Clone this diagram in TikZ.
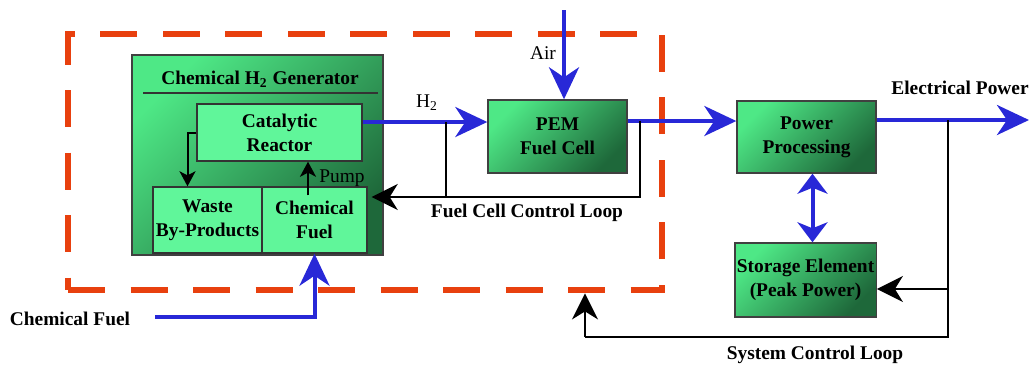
\documentclass[tikz,border=0pt]{standalone}
\usepackage{fontspec}
\setmainfont{Liberation Serif}
\usetikzlibrary{arrows.meta, positioning, calc}
\definecolor{gLight}{RGB}{78,232,134}
\definecolor{gDark}{RGB}{30,104,58}
\definecolor{gFlat}{RGB}{96,246,154}
\definecolor{fcBlue}{RGB}{40,40,215}
\definecolor{fcRed}{RGB}{232,64,14}

\begin{document}
\begin{tikzpicture}[
  x=0.5pt, y=-0.5pt,
  font=\fontsize{9.7}{12}\selectfont\bfseries,
  gbox/.style={draw=black!75, line width=0.7pt, align=center, inner sep=1pt,
               top color=gLight, middle color=gLight!80!gDark, bottom color=gDark,
               shading angle=45},
  ibox/.style={draw=black!80, fill=gFlat, line width=0.7pt, align=center, inner sep=1pt},
  sysbox/.style={draw=fcRed, line width=3.4pt, dash pattern=on 18.5pt off 12.75pt},
  bline/.style={draw=fcBlue, line width=2pt},
  bar/.style={bline, -{Stealth[length=16pt,width=15pt,inset=5pt]}},
  bboth/.style={bline, {Stealth[length=10pt,width=15pt,inset=3pt]}-{Stealth[length=10pt,width=15pt,inset=3pt]}},
  kline/.style={draw=black, line width=1.2pt},
  kar/.style={kline, -{Stealth[length=13pt,width=13pt,inset=4pt]}},
  sar/.style={draw=black, line width=1pt, -{Stealth[length=7.5pt,width=8pt,inset=2pt]}},
  lab/.style={inner sep=1pt},
  nlab/.style={inner sep=1pt, font=\fontsize{9.7}{12}\selectfont\mdseries}
]
\useasboundingbox (0,0) rectangle (1033,365);

%--------------------------------------------------------------
% Sistema a celle: cornice tratteggiata
%--------------------------------------------------------------
\node[sysbox, minimum width=297pt, minimum height=128pt] (fcsys) at (365,162) {};

%--------------------------------------------------------------
% Generatore chimico di H2
%--------------------------------------------------------------
\node[gbox, minimum width=125.5pt, minimum height=100pt] (gen) at (257.5,155) {};
\node[lab] (gentitle) at (260,79) {Chemical H\textsubscript{2} Generator};
\draw[draw=black!80, line width=0.7pt] (143,93) -- (378,93);

\node[ibox, minimum width=82.5pt, minimum height=28.5pt] (reactor) at (279.5,132.5)
  {Catalytic\\ Reactor};
\node[ibox, minimum width=54.5pt, minimum height=33pt] (waste) at (207.5,220)
  {Waste\\ By-Products};
\node[ibox, minimum width=52.5pt, minimum height=33pt] (chemfuel) at (314.5,220)
  {Chemical\\ Fuel};

%--------------------------------------------------------------
% Cella a combustibile e potenza
%--------------------------------------------------------------
\node[gbox, minimum width=69.5pt, minimum height=36.5pt] (pem) at (557.5,136.5)
  {PEM\\ Fuel Cell};
\node[gbox, minimum width=69.5pt, minimum height=36pt] (power) at (806.5,137)
  {Power\\ Processing};
\node[gbox, minimum width=69.5pt, minimum height=37pt] (storage) at (805.5,280)
  {Storage Element\\ (Peak Power)};

%--------------------------------------------------------------
% Punti di innesto
%--------------------------------------------------------------
\coordinate (h2) at (446,122);     % diramazione H2
\coordinate (fcloop) at (446,197); % anello di controllo cella
\coordinate (j3) at (640,121);     % uscita cella
\coordinate (j4) at (948,120);     % uscita potenza
\coordinate (sysb) at (948,337);
\coordinate (sysc) at (585,337);
\coordinate (airin) at (564,10);
\coordinate (eout) at (1029,120);
\coordinate (cfin) at (155,317);

%--------------------------------------------------------------
% Collegamenti
%--------------------------------------------------------------
\draw[bar] (reactor.east |- h2) -- (pem.west |- h2);
\node[nlab] at (427,103) {H\textsubscript{2}};
\draw[bar] (airin) -- (airin |- pem.north);
\node[nlab] at (543,53) {Air};
\draw[bar] (pem.east |- j3) -- (power.west |- j3);
\draw[bar] (power.east |- j4) -- (eout);
\node[lab] at (960,88) {Electrical Power};
\draw[bboth] ([xshift=3pt]power.south) -- ([xshift=3pt]power.south |- storage.north);
\draw[bar] (cfin) -| (chemfuel.south);
\node[lab] at (70,319) {Chemical Fuel};

% anello di controllo della cella
\draw[kline] (h2) -- (fcloop);
\draw[kar] (j3) |- ([xshift=2pt]chemfuel.east |- fcloop);
\node[lab] at (527,213) {Fuel Cell Control Loop};

% anello di controllo del sistema
\draw[kar] (j4) |- ([yshift=-4.5pt]storage.east);
\draw[kline] (j4) -- (sysb) -- (sysc);
\draw[kar] (sysc) -- (sysc |- fcsys.south);
\node[lab] at (815,355) {System Control Loop};

% interno del generatore
\draw[sar] (reactor.west) -| ([xshift=-10pt]waste.north);
\draw[sar] ([shift={(-3.25pt,-4.5pt)}]chemfuel.north) coordinate (pumpa) -- (pumpa |- reactor.south);
\node[nlab] at (342,178) {Pump};

\end{tikzpicture}
\end{document}
